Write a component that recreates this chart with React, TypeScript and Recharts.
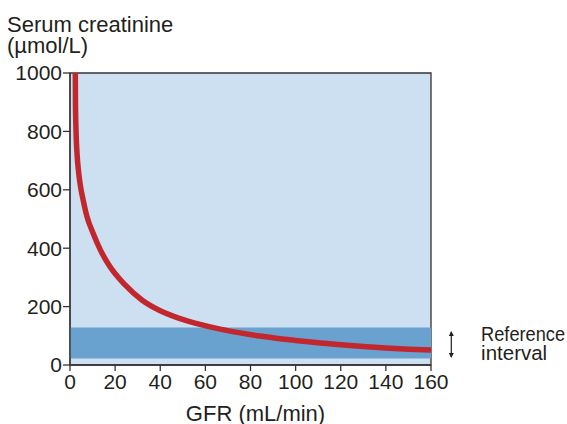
import React from "react";
import {
  LineChart,
  Line,
  XAxis,
  YAxis,
  ReferenceArea,
  ReferenceLine,
  ReferenceDot,
} from "recharts";

const gfr = [2.35, 2.42, 2.66, 3.2, 3.8, 4.6, 5.8, 7.5, 10.2, 13.4, 17.6, 24.2, 32, 40, 48.8, 57.6, 66.5, 75.4, 84.2, 93, 100, 110, 120, 130, 140, 150, 160];
const creatinine = [1000, 900, 806, 714, 662, 614, 566, 509, 452, 395, 338, 276, 222, 186, 159, 139, 123, 110, 99, 90, 84, 76, 69, 63, 58, 54, 51];
const xTicks = [0, 20, 40, 60, 80, 100, 120, 140, 160];
const yTicks = [0, 200, 400, 600, 800, 1000];
const refLow = 22;
const refHigh = 128;
const titleLines = ["Serum creatinine", "(µmol/L)"];
const xLabel = "GFR (mL/min)";
const refLabelLines = ["Reference", "interval"];

const data = gfr.map((g, i) => ({ gfr: g, value: creatinine[i] }));

const FONT = "'Liberation Sans', Arial, Helvetica, sans-serif";
const TEXT = "#231f20";
const AXIS = "#333333";

const ArrowHead = (dir: "up" | "down") => (props: any) => {
  const { cx, cy } = props;
  const d =
    dir === "up"
      ? `M${cx - 2.5},${cy + 4} L${cx},${cy - 1} L${cx + 2.5},${cy + 4} Z`
      : `M${cx - 2.5},${cy - 4} L${cx},${cy + 1} L${cx + 2.5},${cy - 4} Z`;
  return <path d={d} fill={TEXT} />;
};

const RefText = (props: any) => {
  const { cx, cy } = props;
  return (
    <text fontFamily={FONT} fontSize={20.5} fill={TEXT}>
      <tspan x={cx} y={cy} textLength={84} lengthAdjust="spacingAndGlyphs">{refLabelLines[0]}</tspan>
      <tspan x={cx} y={cy + 18.5}>{refLabelLines[1]}</tspan>
    </text>
  );
};

export default function App() {
  return (
    <div style={{ position: "absolute", left: 0, top: 0, width: 567, height: 424, background: "#fff" }}>
      <div
        style={{
          position: "absolute",
          left: 7,
          top: 14,
          fontFamily: FONT,
          fontSize: 22,
          lineHeight: "21px",
          color: TEXT,
          whiteSpace: "nowrap",
        }}
      >
        {titleLines.map((t) => (
          <div key={t}>{t}</div>
        ))}
      </div>
      <LineChart
        width={567}
        height={424}
        data={data}
        margin={{ top: 73, right: 136, bottom: 0, left: 0 }}
        style={{ position: "absolute", left: 0, top: 0 }}
      >
        <ReferenceArea x1={0} x2={160} y1={0} y2={1000} fill="#cde0f1" fillOpacity={1} stroke={AXIS} strokeWidth={1.3} />
        <ReferenceArea x1={0} x2={160} y1={refLow} y2={refHigh} fill="#6aa2cf" fillOpacity={1} />
        <XAxis
          dataKey="gfr"
          type="number"
          domain={[0, 160]}
          ticks={xTicks}
          height={59}
          tickSize={6}
          tickMargin={3}
          stroke={AXIS}
          strokeWidth={1.3}
          tick={{ fill: TEXT, fontSize: 21, fontFamily: FONT }}
          label={{ value: xLabel, position: "insideBottom", offset: 3, dx: 5, fill: TEXT, fontSize: 22, fontFamily: FONT }}
          allowDataOverflow
        />
        <YAxis
          type="number"
          domain={[0, 1000]}
          ticks={yTicks}
          width={70}
          tickSize={7}
          tickMargin={1}
          stroke={AXIS}
          strokeWidth={1.3}
          tick={{ fill: TEXT, fontSize: 21, fontFamily: FONT }}
          allowDataOverflow
          interval={0}
        />
        <Line
          dataKey="value"
          type="monotone"
          stroke="#c1272d"
          strokeWidth={5.5}
          dot={false}
          isAnimationActive={false}
          strokeLinecap="butt"
        />
        <ReferenceLine
          segment={[{ x: 169, y: 27 }, { x: 169, y: 113 }]}
          stroke={TEXT}
          strokeWidth={1.2}
          ifOverflow="visible"
        />
        <ReferenceDot x={169} y={113} ifOverflow="visible" shape={ArrowHead("up")} />
        <ReferenceDot x={169} y={27} ifOverflow="visible" shape={ArrowHead("down")} />
        <ReferenceDot x={182.2} y={81} ifOverflow="visible" shape={RefText} />
      </LineChart>
    </div>
  );
}
